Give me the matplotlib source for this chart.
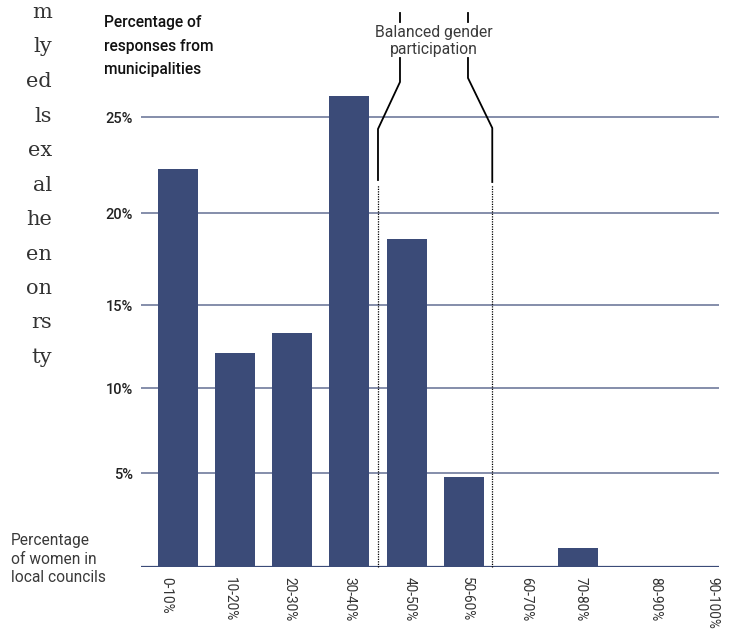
import numpy as np
import matplotlib
matplotlib.use("Agg")
import matplotlib.pyplot as plt
import matplotlib.transforms as mtransforms

# data
categories = ["0-10%", "10-20%", "20-30%", "30-40%", "40-50%", "50-60%",
              "60-70%", "70-80%", "80-90%", "90-100%"]
share = [22.3, 12.1, 13.3, 26.1, 18.6, 4.8, 0.0, 1.0, 0.0, 0.0]
yticks = [5, 10, 15, 20, 25]
ytick_labels = ["5%", "10%", "15%", "20%", "25%"]
balanced = (3.5, 5.5)  # 40% .. 60% boundary between categories

# cut off paragraph on the left edge
para_ends = ["m", "ly", "ed", "ls", "ex", "al", "he", "en", "on", "rs", "ty"]

bar_col = "#3b4b78"
grid_col = "#6f7a9c"
W, H = 733, 631

# the gridlines in the original are not evenly spaced, follow them
knots_v = [0, 5, 10, 15, 20, 25, 35]
knots_px = [0, 94, 179, 262, 354, 450, 642]
def fwd(v):
    return np.interp(v, knots_v, knots_px)
def inv(p):
    return np.interp(p, knots_px, knots_v)

plt.rcParams["font.family"] = ["Roboto", "DejaVu Sans"]

fig = plt.figure(figsize=(W / 100, H / 100), dpi=100)
ax = fig.add_axes([141 / W, (H - 567) / H, (719 - 141) / W, (567 - 13) / H])
ax.set_yscale("function", functions=(fwd, inv))

x = np.arange(len(categories))
ax.bar(x, share, width=0.70, color=bar_col, zorder=3)

ax.set_xlim(-0.6475, 9.468)
ax.set_ylim(0, 30.42)

for t in yticks:
    ax.axhline(t, color=grid_col, lw=1.2, zorder=1)
ax.axhline(0, color=bar_col, lw=1.6, zorder=4)

for s in ax.spines.values():
    s.set_visible(False)

ax.set_yticks(yticks)
ax.set_yticklabels(ytick_labels, fontsize=10.5, fontweight="medium", color="#222222")
ax.tick_params(axis="y", length=0, pad=6)
ax.yaxis.set_minor_locator(matplotlib.ticker.NullLocator())

tick_pos = [-0.2, 0.9, 1.95, 3.0, 4.05, 5.05, 6.1, 7.05, 8.35, 9.36]
ax.set_xticks(tick_pos)
ax.set_xticklabels(categories, rotation=-90, fontsize=9.8, fontweight="normal",
                   color="#333333", va="top", ha="center")
ax.tick_params(axis="x", length=0, pad=7)

# bracket for balanced participation
tr = mtransforms.blended_transform_factory(ax.transData, ax.transAxes)
def fy(py):
    return (567 - py) / 554.0
lx, rx = balanced
lx2, rx2 = lx + 0.385, rx - 0.425
kw = dict(color="black", lw=1.3, transform=tr, clip_on=False, zorder=5)
ax.plot([lx2, lx2], [fy(13), fy(22)], **kw)
ax.plot([lx2, lx2, lx, lx], [fy(58), fy(82), fy(129), fy(180)], **kw)
ax.plot([rx2, rx2], [fy(13), fy(22)], **kw)
ax.plot([rx2, rx2, rx, rx], [fy(58), fy(78), fy(128), fy(182)], **kw)
for bx in balanced:
    ax.plot([bx, bx], [0, fy(185)], color="black", lw=0.9, ls=(0, (1, 1)),
            transform=tr, clip_on=False, zorder=5)
ax.text((lx2 + rx2) / 2, fy(41), "Balanced gender\nparticipation", transform=tr,
        ha="center", va="center", fontsize=11.3, fontweight="normal",
        color="#3a3a3a", linespacing=1.1)

# titles
fig.text(104 / W, 1 - 15 / H, "Percentage of\nresponses from\nmunicipalities",
         ha="left", va="top", fontsize=11.2, fontweight="medium", color="#111111",
         linespacing=1.72)
fig.text(11 / W, 1 - 533 / H, "Percentage\nof women in\nlocal councils",
         ha="left", va="top", fontsize=11.2, fontweight="normal", color="#3a3a3a",
         linespacing=1.3)

for i, s in enumerate(para_ends):
    fig.text(52 / W, 1 - (18 + 34.5 * i) / H, s, ha="right", va="baseline",
             fontsize=15, family="DejaVu Serif", color="#333333")

fig.savefig("out.png", dpi=100)
